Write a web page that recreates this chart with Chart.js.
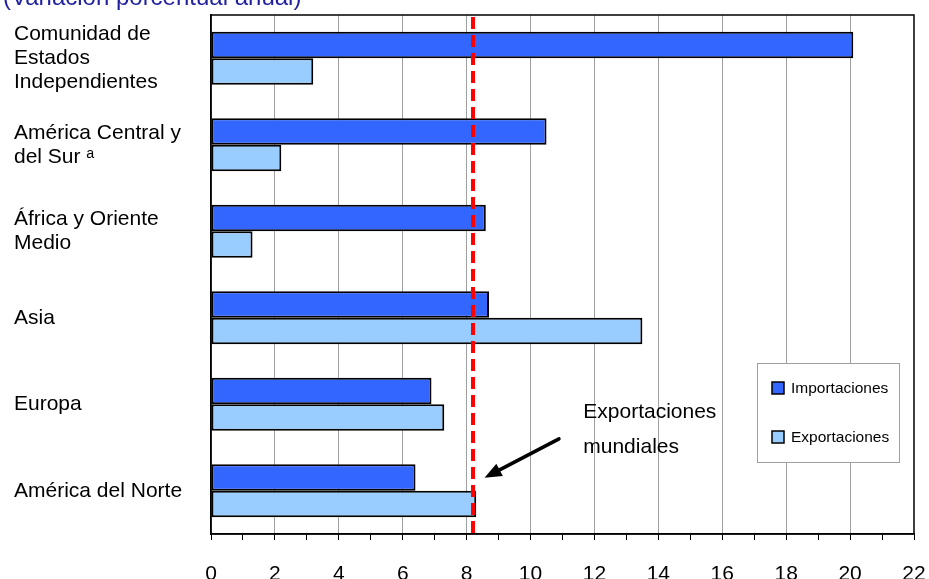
<!DOCTYPE html>
<html>
<head>
<meta charset="utf-8">
<script src="https://cdn.jsdelivr.net/npm/chart.js@4.4.1/dist/chart.umd.min.js"></script>
<style>
  html, body { margin: 0; padding: 0; background: #fff; }
  #wrap { width: 929px; height: 579px; position: relative; }
</style>
</head>
<body>
<div id="wrap"><canvas id="myChart"></canvas></div>
<script>
// regions, top to bottom
const regions = [
    ['Comunidad de', 'Estados', 'Independientes'],
    ['América Central y', 'del Sur ᵃ'],
    ['África y Oriente', 'Medio'],
    ['Asia'],
    ['Europa'],
    ['América del Norte']
];

// annual % change
const importaciones = [20.1, 10.5, 8.6, 8.7, 6.9, 6.4];
const exportaciones = [3.2, 2.2, 1.3, 13.5, 7.3, 8.3];
const exportacionesMundiales = 8.2;

// x axis
const xMin = 0;
const xMax = 22;
const xLabelStep = 2;

const seriesNames = ['Importaciones', 'Exportaciones'];
const seriesColors = ['#3366ff', '#99ccff'];

const FONT = "'Liberation Sans', Arial, sans-serif";

// everything that is not a bar: title, frame, world line, arrow, legend
let extras = {
    id: 'extras',
    beforeDraw(chart) {
        let ctx = chart.ctx
        ctx.save()
        ctx.fillStyle = '#fff'
        ctx.fillRect(0, 0, chart.width, chart.height)
        ctx.fillStyle = '#1f1f9f'
        ctx.font = '24px ' + FONT
        ctx.textBaseline = 'alphabetic'
        ctx.fillText('(Variación porcentual anual)', 3, 5)
        ctx.restore()
    },
    afterDatasetsDraw(chart) {
        let ctx = chart.ctx
        let a = chart.chartArea
        let x = chart.scales.x
        let y = chart.scales.y

        // world exports line
        let px = x.getPixelForValue(exportacionesMundiales)
        ctx.save()
        ctx.strokeStyle = '#ff0000'
        ctx.lineWidth = 4
        ctx.setLineDash([12, 6])
        ctx.beginPath()
        ctx.moveTo(px, a.top + 2)
        ctx.lineTo(px, a.bottom)
        ctx.stroke()
        ctx.restore()

        // frame
        ctx.save()
        ctx.strokeStyle = '#000'
        ctx.lineWidth = 1.5
        ctx.strokeRect(a.left, a.top, a.right - a.left, a.bottom - a.top)
        ctx.restore()

        // annotation text + arrow
        ctx.save()
        ctx.fillStyle = '#000'
        ctx.font = '21px ' + FONT
        ctx.textBaseline = 'alphabetic'
        ctx.fillText('Exportaciones', x.getPixelForValue(11.65), y.getPixelForValue(4.16))
        ctx.fillText('mundiales', x.getPixelForValue(11.65), y.getPixelForValue(4.56))

        let x0 = x.getPixelForValue(10.89), y0 = y.getPixelForValue(4.40)
        let x1 = x.getPixelForValue(8.56), y1 = y.getPixelForValue(4.85)
        let ang = Math.atan2(y1 - y0, x1 - x0)
        let headLen = 17, headW = 7
        let bx = x1 - headLen * Math.cos(ang), by = y1 - headLen * Math.sin(ang)
        ctx.strokeStyle = '#000'
        ctx.lineWidth = 3.5
        ctx.lineCap = 'round'
        ctx.beginPath()
        ctx.moveTo(x0, y0)
        ctx.lineTo(bx, by)
        ctx.stroke()
        ctx.beginPath()
        ctx.moveTo(x1, y1)
        ctx.lineTo(bx + headW * Math.sin(ang), by - headW * Math.cos(ang))
        ctx.lineTo(bx - headW * Math.sin(ang), by + headW * Math.cos(ang))
        ctx.closePath()
        ctx.fill()
        ctx.restore()

        // legend
        let lw = 142, lh = 99
        let lx = a.right - 15 - lw
        let ly = a.bottom - 72 - lh
        ctx.save()
        ctx.fillStyle = '#fff'
        ctx.fillRect(lx, ly, lw, lh)
        ctx.strokeStyle = '#a0a0a0'
        ctx.lineWidth = 1
        ctx.strokeRect(lx + 0.5, ly + 0.5, lw, lh)
        ctx.font = '15.5px ' + FONT
        ctx.textBaseline = 'alphabetic'
        seriesNames.forEach((name, i) => {
            let sy = ly + 19 + i * 49
            ctx.fillStyle = seriesColors[i]
            ctx.fillRect(lx + 15, sy, 12, 12)
            ctx.strokeStyle = '#000'
            ctx.lineWidth = 1.5
            ctx.strokeRect(lx + 15, sy, 12, 12)
            ctx.fillStyle = '#000'
            ctx.fillText(name, lx + 34, sy + 11)
        })
        ctx.restore()
    }
};

let ctx = document.getElementById('myChart').getContext('2d')

let myChart = new Chart(ctx, {
    type: 'bar',
    data: {
        labels: regions,
        datasets: [{
            label: seriesNames[0],
            data: importaciones,
            backgroundColor: seriesColors[0],
            borderColor: '#000',
            borderWidth: 2,
            borderSkipped: false
        }, {
            label: seriesNames[1],
            data: exportaciones,
            backgroundColor: seriesColors[1],
            borderColor: '#000',
            borderWidth: 2,
            borderSkipped: false
        }]
    },
    options: {
        indexAxis: 'y',
        responsive: true,
        maintainAspectRatio: false,
        animation: false,
        categoryPercentage: 0.61,
        barPercentage: 1,
        layout: { padding: { left: 14, top: 15, right: 15, bottom: 0 } },
        plugins: {
            legend: { display: false },
            tooltip: { enabled: false }
        },
        scales: {
            x: {
                min: xMin,
                max: xMax,
                afterFit: (scale) => {
                    scale.height = 45
                    scale.paddingLeft = 0
                    scale.paddingRight = 0
                },
                ticks: {
                    stepSize: 1,
                    autoSkip: false,
                    maxRotation: 0,
                    padding: 22,
                    color: '#000',
                    font: { family: FONT, size: 21 },
                    callback: (v) => v % xLabelStep === 0 ? v : ''
                },
                grid: {
                    color: (c) => (c.tick && c.tick.value % xLabelStep === 0 && c.tick.value > xMin && c.tick.value < xMax) ? '#a0a0a0' : 'rgba(0,0,0,0)',
                    tickColor: '#000',
                    tickLength: 6,
                    lineWidth: 1
                },
                border: { display: true, color: '#000', width: 1.5 }
            },
            y: {
                afterFit: (scale) => { scale.width = 197 },
                ticks: {
                    crossAlign: 'far',
                    color: '#000',
                    font: { family: FONT, size: 21, lineHeight: 1.14 }
                },
                grid: { display: false },
                border: { display: true, color: '#000', width: 1.5 }
            }
        }
    },
    plugins: [extras]
});
</script>
</body>
</html>
